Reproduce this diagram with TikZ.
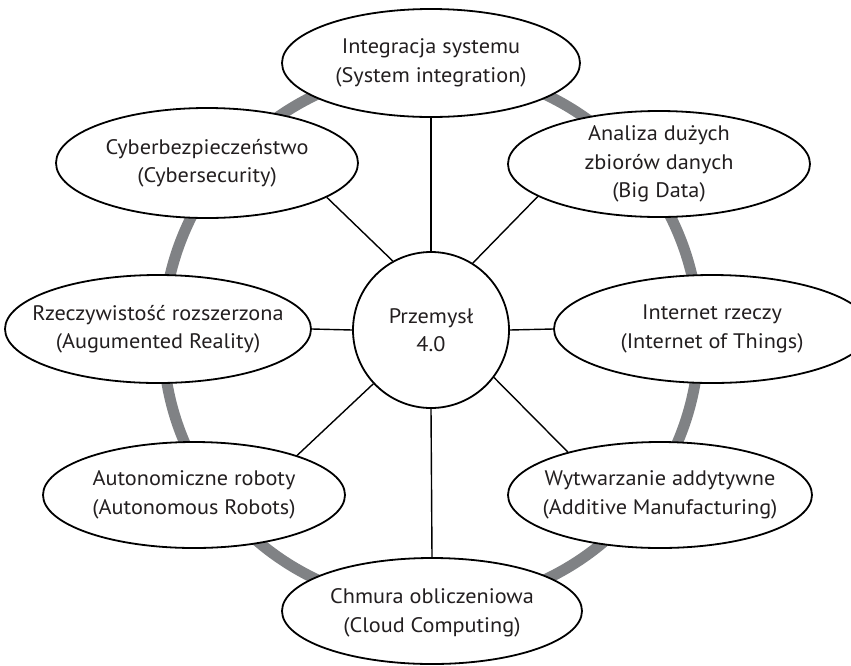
\documentclass[tikz,border=0pt]{standalone}
\usepackage{fontspec}
\setmainfont{PT Sans}[FakeStretch=1.06]
\usetikzlibrary{shapes.geometric}
\definecolor{ringgray}{RGB}{128,130,133}
\definecolor{ink}{RGB}{35,31,32}
\begin{document}
\begin{tikzpicture}[x=1pt,y=-1pt,
  topic/.style={ellipse, draw=black, line width=1.8pt, fill=white, inner sep=0pt,
    minimum width=302pt, minimum height=107pt},
  lbl/.style={inner sep=0pt, align=center, font=\fontsize{21}{28.5}\selectfont, text=ink},
  hub/.style={circle, draw=black, line width=1.8pt, fill=white, inner sep=0pt,
    minimum size=156pt, align=center, font=\fontsize{21}{28.5}\selectfont, text=ink},
  spoke/.style={line width=1.4pt, draw=black},
  ring/.style={line width=11pt, draw=ringgray}]
\useasboundingbox (0,0) rectangle (851,665);
\draw[ring] (431,337) circle[radius=268pt];
\node[hub] (c) at (431,330) {Przemysł\\4.0};
\node[topic, minimum width=298pt, minimum height=108pt] (top) at (431,63) {};
\node[topic, minimum height=110pt] (cyber) at (207,163) {};
\node[topic, minimum height=106pt] (big) at (659,164) {};
\node[topic, minimum width=306pt, minimum height=108pt] (ar) at (158,329) {};
\node[topic, minimum width=316pt, minimum height=108pt] (iot) at (712,329) {};
\node[topic, minimum height=106pt] (auto) at (194,495) {};
\node[topic, minimum width=304pt, minimum height=106pt] (add) at (660,495) {};
\node[topic, minimum width=300pt, minimum height=106pt] (cloud) at (432,611) {};
\node[lbl] (top-t) at (top.center) {Integracja systemu\\(System integration)};
\node[lbl] (cyber-t) at (cyber.center) {Cyberbezpieczeństwo\\(Cybersecurity)};
\node[lbl] (big-t) at (big.center) {Analiza dużych\\zbiorów danych\\(Big Data)};
\node[lbl] (ar-t) at (ar.center) {Rzeczywistość rozszerzona\\(Augumented Reality)};
\node[lbl] (iot-t) at (iot.center) {Internet rzeczy\\(Internet of Things)};
\node[lbl] (auto-t) at (auto.center) {Autonomiczne roboty\\(Autonomous Robots)};
\node[lbl] (add-t) at (add.center) {Wytwarzanie addytywne\\(Additive Manufacturing)};
\node[lbl] (cloud-t) at ([yshift=-2pt]cloud.center) {Chmura obliczeniowa\\(Cloud Computing)};
\draw[spoke] (c.90) -- (top.south);
\draw[spoke] (c.119) -- (cyber.-16);
\draw[spoke] (c.58) -- (big.195);
\draw[spoke] (c.180) -- (ar.0);
\draw[spoke] (c.0) -- (iot.180);
\draw[spoke] (c.223) -- (auto.21);
\draw[spoke] (c.-37) -- (add.155);
\draw[spoke] (c.270) -- (cloud.north);
\end{tikzpicture}
\end{document}
